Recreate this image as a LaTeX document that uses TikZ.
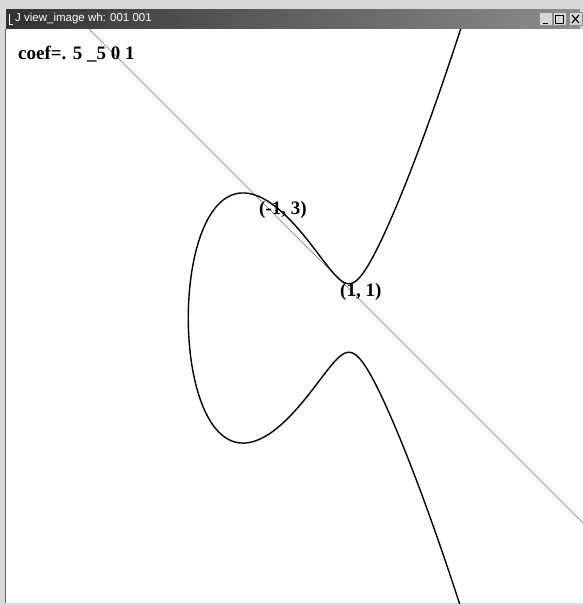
\documentclass[tikz,border=0pt]{standalone}
\usepackage{fontspec}
\setmainfont{Liberation Serif}
\newfontfamily\titlefont{Liberation Sans}
\usetikzlibrary{calc}
\begin{document}
\begin{tikzpicture}[x=1pt,y=-1pt,
  lbl/.style={font=\fontsize{19}{19}\selectfont\bfseries, inner sep=0pt, anchor=base west},
  curve/.style={line width=1.4pt, black},
  tline/.style={line width=0.7pt, black!55},
  btn/.style={fill=black!16, draw=black!45, line width=0.5pt},
  declare function={rr=-2.6274; gg(\x)=\x*\x+rr*\x+1.9032;}]
\useasboundingbox (0,0) rectangle (583,606);
% window chrome
\fill[black!15] (0,0) rectangle (583,606);
\fill[white] (6,29) rectangle (583,603);
\draw[black!60, line width=0.8pt] (5.6,29) -- (5.6,603);
\shade[left color=black!80, right color=black!45] (6,9) rectangle (580,28);
\draw[white, line width=0.8pt] (9,14) -- (9,24) -- (13,24);
\node[anchor=west, text=white, inner sep=0pt, font=\titlefont\fontsize{11.5}{11.5}\selectfont] (title) at (15,18.5) {J view\_image wh: 001 001};
\node[btn, minimum width=13pt, minimum height=13pt, inner sep=0pt] (bmin) at (545.5,19) {};
\node[btn, minimum width=13pt, minimum height=13pt, inner sep=0pt] (bmax) at (559.5,19) {};
\node[btn, minimum width=13pt, minimum height=13pt, inner sep=0pt] (bclose) at (575.5,19) {};
\draw[black, line width=1pt] ($(bmin)+(-3,4)$) -- ($(bmin)+(2,4)$);
\draw[black, line width=0.8pt] ($(bmax)+(-4,-4)$) rectangle ($(bmax)+(4,4)$);
\draw[black, line width=1.1pt] ($(bclose)+(-3.5,-4)$) -- ($(bclose)+(3.5,4)$) ($(bclose)+(3.5,-4)$) -- ($(bclose)+(-3.5,4)$);
% plot area
\begin{scope}
\clip (6,29) rectangle (583,603);
\begin{scope}[shift={(296,318)}, x=41pt, y=41pt]
\coordinate (P) at (1,1);
\coordinate (Q) at (-1,3);
\draw[tline] ($(Q)!-3.2!(P)$) -- ($(Q)!4.3!(P)$);
\draw[curve, smooth, variable=\t, samples=400, domain=-2.75:2.75]
  plot ({rr+\t*\t}, {\t*sqrt(gg(rr+\t*\t))});
\end{scope}
\end{scope}
\node[lbl] (coef) at (18,59) {coef=. 5 \_5 0 1};
\node[lbl] (lq) at (259,214) {(-1, 3)};
\node[lbl] (lp) at (340,296) {(1, 1)};
\end{tikzpicture}
\end{document}
